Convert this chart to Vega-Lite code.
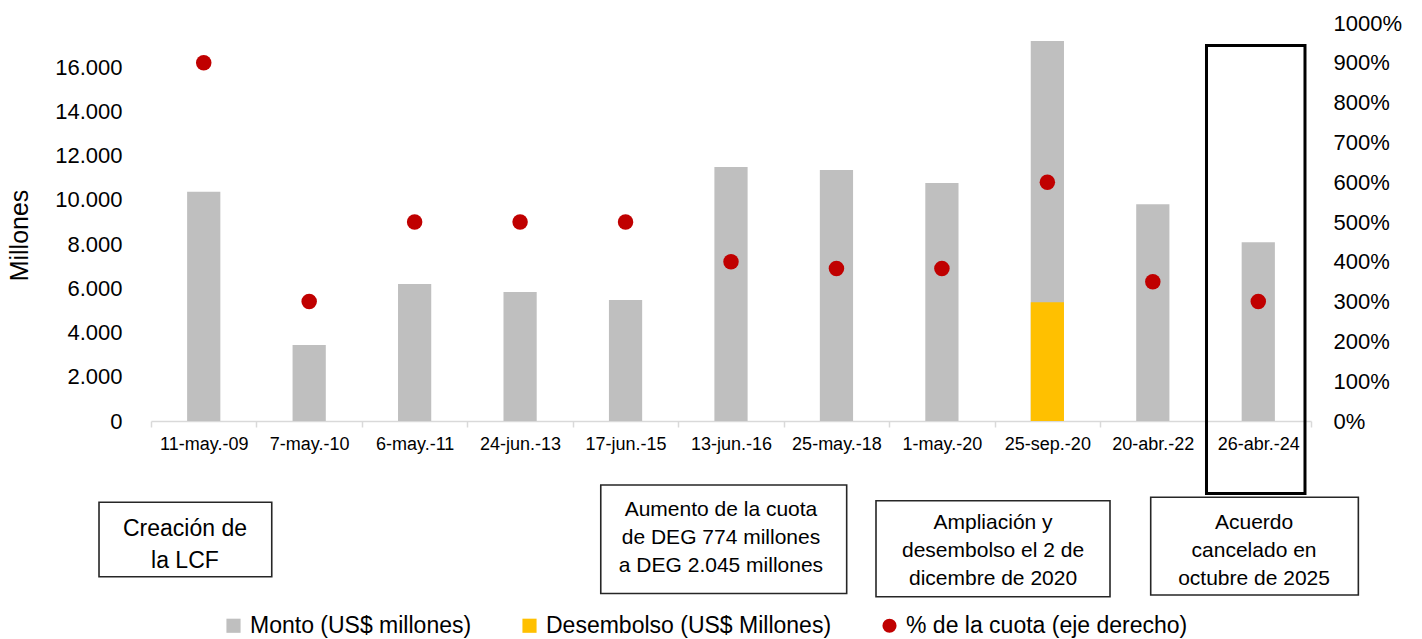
{
  "$schema": "https://vega.github.io/schema/vega-lite/v6.json",
  "width": 1160,
  "height": 398,
  "autosize": {"type": "none"},
  "padding": {"left": 151, "top": 23, "right": 111, "bottom": 218},
  "config": {
    "view": {"stroke": null},
    "font": "Liberation Sans",
    "axis": {"labelColor": "#000000", "titleColor": "#000000", "grid": false},
    "legend": {"labelColor": "#000000"}
  },
  "datasets": {
    "barras": [
      {"fecha": "11-may.-09", "serie": "Monto (US$ millones)", "valor": 10370},
      {"fecha": "7-may.-10", "serie": "Monto (US$ millones)", "valor": 3440},
      {"fecha": "6-may.-11", "serie": "Monto (US$ millones)", "valor": 6200},
      {"fecha": "24-jun.-13", "serie": "Monto (US$ millones)", "valor": 5830},
      {"fecha": "17-jun.-15", "serie": "Monto (US$ millones)", "valor": 5470},
      {"fecha": "13-jun.-16", "serie": "Monto (US$ millones)", "valor": 11490},
      {"fecha": "25-may.-18", "serie": "Monto (US$ millones)", "valor": 11350},
      {"fecha": "1-may.-20", "serie": "Monto (US$ millones)", "valor": 10760},
      {"fecha": "25-sep.-20", "serie": "Monto (US$ millones)", "valor": 17190},
      {"fecha": "20-abr.-22", "serie": "Monto (US$ millones)", "valor": 9800},
      {"fecha": "26-abr.-24", "serie": "Monto (US$ millones)", "valor": 8080},
      {"fecha": "25-sep.-20", "serie": "Desembolso (US$ Millones)", "valor": 5370}
    ],
    "cuota": [
      {"fecha": "11-may.-09", "pct": 900},
      {"fecha": "7-may.-10", "pct": 300},
      {"fecha": "6-may.-11", "pct": 500},
      {"fecha": "24-jun.-13", "pct": 500},
      {"fecha": "17-jun.-15", "pct": 500},
      {"fecha": "13-jun.-16", "pct": 400},
      {"fecha": "25-may.-18", "pct": 383},
      {"fecha": "1-may.-20", "pct": 383},
      {"fecha": "25-sep.-20", "pct": 600},
      {"fecha": "20-abr.-22", "pct": 350},
      {"fecha": "26-abr.-24", "pct": 300}
    ],
    "marco": [
      {"u1": 10.009, "u2": 10.943, "v1": 16983, "v2": -3279}
    ],
    "cajas": [
      {"u1": -0.493, "u2": 1.145, "v1": -3677, "v2": -7042},
      {"u1": 4.265, "u2": 6.597, "v1": -2894, "v2": -7800},
      {"u1": 6.875, "u2": 9.094, "v1": -3605, "v2": -7946},
      {"u1": 9.48, "u2": 11.449, "v1": -3451, "v2": -7869}
    ],
    "texto_grande": [
      {"u": 0.322, "v": -4884, "texto": "Creación de\nla LCF"}
    ],
    "textos": [
      {"u": 5.405, "v": -4025, "texto": "Aumento de la cuota\nde DEG 774 millones\na DEG 2.045 millones"},
      {"u": 7.985, "v": -4613, "texto": "Ampliación y\ndesembolso el 2 de\ndicembre de 2020"},
      {"u": 10.46, "v": -4600, "texto": "Acuerdo\ncancelado en\noctubre de 2025"}
    ]
  },
  "layer": [
    {
      "layer": [
        {
          "data": {"name": "barras"},
          "mark": {"type": "bar", "width": {"band": 0.315}},
          "encoding": {
            "x": {
              "field": "fecha",
              "type": "nominal",
              "sort": null,
              "scale": {
                "domain": ["11-may.-09", "7-may.-10", "6-may.-11", "24-jun.-13", "17-jun.-15", "13-jun.-16", "25-may.-18", "1-may.-20", "25-sep.-20", "20-abr.-22", "26-abr.-24"],
                "paddingInner": 0,
                "paddingOuter": 0
              },
              "axis": {
                "title": null,
                "labelAngle": 0,
                "labelFontSize": 18,
                "labelPadding": 8,
                "domainColor": "#D9D9D9",
                "domainWidth": 1.5,
                "tickColor": "#D9D9D9",
                "tickWidth": 1.5,
                "tickSize": 6,
                "tickBand": "extent"
              }
            },
            "y": {
              "field": "valor",
              "type": "quantitative",
              "stack": null,
              "scale": {"domain": [0, 18000], "nice": false},
              "axis": {
                "title": "Millones",
                "values": [0, 2000, 4000, 6000, 8000, 10000, 12000, 14000, 16000],
                "labelExpr": "replace(format(datum.value, ','), ',', '.')",
                "domain": false,
                "ticks": false,
                "tickSize": 0,
                "labelFontSize": 22,
                "labelPadding": 29,
                "titleFontSize": 25,
                "titleFontWeight": "normal",
                "titleX": -124,
                "titleY": 212,
                "titleBaseline": "alphabetic",
                "titleAngle": -90
              }
            },
            "color": {
              "field": "serie",
              "type": "nominal",
              "sort": null,
              "scale": {
                "domain": ["Monto (US$ millones)", "Desembolso (US$ Millones)", "% de la cuota (eje derecho)"],
                "range": ["#BFBFBF", "#FFC000", "#C00000"]
              },
              "legend": {
                "orient": "none",
                "legendX": 71,
                "legendY": 591,
                "direction": "horizontal",
                "title": null,
                "padding": 0,
                "labelFontSize": 23,
                "labelLimit": 500,
                "labelOffset": 5,
                "symbolSize": 200,
                "symbolType": "square",
                "columnPadding": 46,
                "encode": {
                  "symbols": {
                    "update": {
                      "shape": {"signal": "datum.value === '% de la cuota (eje derecho)' ? 'circle' : 'square'"}
                    }
                  }
                }
              }
            }
          }
        },
        {
          "data": {"name": "cuota"},
          "mark": {"type": "point", "filled": true, "size": 240, "opacity": 1},
          "encoding": {
            "x": {"field": "fecha", "type": "nominal", "sort": null},
            "y": {
              "field": "pct",
              "type": "quantitative",
              "scale": {"domain": [0, 1000], "nice": false},
              "axis": {
                "orient": "right",
                "title": null,
                "values": [0, 100, 200, 300, 400, 500, 600, 700, 800, 900, 1000],
                "labelExpr": "datum.value + '%'",
                "domain": false,
                "ticks": false,
                "tickSize": 0,
                "labelFontSize": 22,
                "labelPadding": 22
              }
            },
            "color": {"datum": "% de la cuota (eje derecho)"}
          }
        }
      ],
      "resolve": {"scale": {"y": "independent"}}
    },
    {
      "layer": [
        {
          "data": {"name": "marco"},
          "mark": {"type": "rect", "filled": false, "stroke": "#000000", "strokeWidth": 3},
          "encoding": {
            "x": {"field": "u1", "type": "quantitative", "scale": {"domain": [0, 11], "nice": false, "zero": false}, "axis": null},
            "x2": {"field": "u2"},
            "y": {"field": "v1", "type": "quantitative", "scale": {"domain": [0, 18000], "nice": false}, "axis": null},
            "y2": {"field": "v2"}
          }
        },
        {
          "data": {"name": "cajas"},
          "mark": {"type": "rect", "filled": false, "stroke": "#262626", "strokeWidth": 1.6},
          "encoding": {
            "x": {"field": "u1", "type": "quantitative"},
            "x2": {"field": "u2"},
            "y": {"field": "v1", "type": "quantitative"},
            "y2": {"field": "v2"}
          }
        },
        {
          "data": {"name": "texto_grande"},
          "mark": {"type": "text", "fontSize": 23, "lineHeight": 32, "lineBreak": "\n", "align": "center", "baseline": "middle", "color": "#000000"},
          "encoding": {
            "x": {"field": "u", "type": "quantitative"},
            "y": {"field": "v", "type": "quantitative"},
            "text": {"field": "texto"}
          }
        },
        {
          "data": {"name": "textos"},
          "mark": {"type": "text", "fontSize": 21, "lineHeight": 28, "lineBreak": "\n", "align": "center", "baseline": "middle", "color": "#000000"},
          "encoding": {
            "x": {"field": "u", "type": "quantitative"},
            "y": {"field": "v", "type": "quantitative"},
            "text": {"field": "texto"}
          }
        }
      ]
    }
  ],
  "resolve": {"scale": {"x": "independent", "y": "independent"}}
}
